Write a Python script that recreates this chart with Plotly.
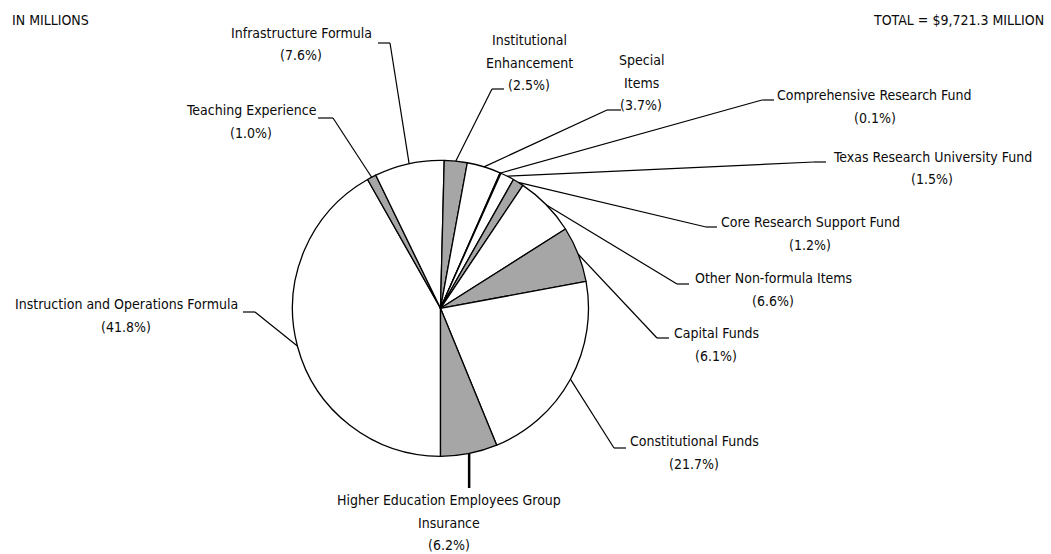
import math
import plotly.graph_objects as go

# ---- data (clockwise from 6 o'clock) ----
categories = [
    "Instruction and Operations Formula",
    "Teaching Experience",
    "Infrastructure Formula",
    "Institutional Enhancement",
    "Special Items",
    "Comprehensive Research Fund",
    "Texas Research University Fund",
    "Core Research Support Fund",
    "Other Non-formula Items",
    "Capital Funds",
    "Constitutional Funds",
    "Higher Education Employees Group Insurance",
]
shares = [41.8, 1.0, 7.6, 2.5, 3.7, 0.1, 1.5, 1.2, 6.6, 6.1, 21.7, 6.2]
label_lines = [
    ["Instruction and Operations Formula", "(41.8%)"],
    ["Teaching Experience", "(1.0%)"],
    ["Infrastructure Formula", "(7.6%)"],
    ["Institutional", "Enhancement", "(2.5%)"],
    ["Special", "Items", "(3.7%)"],
    ["Comprehensive Research Fund", "(0.1%)"],
    ["Texas Research University Fund", "(1.5%)"],
    ["Core Research Support Fund", "(1.2%)"],
    ["Other Non-formula Items", "(6.6%)"],
    ["Capital Funds", "(6.1%)"],
    ["Constitutional Funds", "(21.7%)"],
    ["Higher Education Employees Group", "Insurance", "(6.2%)"],
]
title_left = "IN MILLIONS"
title_right = "TOTAL = $9,721.3 MILLION"

# ---- styling / layout ----
W, H = 1051, 554
CX, CY, R = 440.5, 308.3, 148.0
GRAY = "#a6a6a6"
fills = ["white", GRAY, "white", GRAY, "white", "black",
         "white", GRAY, "white", GRAY, "white", GRAY]
TXT = "#0a0a0a"
FONT = "DejaVu Sans Condensed, Liberation Sans Narrow, sans-serif"
FS = 14
LINE_GAP = 22.5

# label layout: text centre x, first-line centre y,
# horizontal segment (text-side x, elbow x, y) in px
label_layout = [
    dict(tx=126, ty=304, seg=(243, 255, 312)),
    dict(tx=251, ty=110, seg=(318, 333, 118)),
    dict(tx=301, ty=33, seg=(378, 390, 43)),
    dict(tx=529, ty=40, seg=(504, 492, 89)),
    dict(tx=641, ty=60, seg=(621, 607, 110)),
    dict(tx=875, ty=95, seg=(774, 762, 100)),
    dict(tx=932, ty=157, seg=(826, 814, 162)),
    dict(tx=810, ty=222, seg=(717, 706, 227)),
    dict(tx=773, ty=278, seg=(689, 677, 284)),
    dict(tx=716, ty=333, seg=(669, 657, 338)),
    dict(tx=694, ty=441, seg=(626, 614, 448)),
    dict(tx=449, ty=500, seg=None, vend=488),
]


def px(x):
    return x / W


def py(y):
    return 1 - y / H


fig = go.Figure()
fig.add_trace(go.Pie(
    labels=categories, values=shares, sort=False,
    direction="clockwise", rotation=180,
    marker=dict(colors=fills, line=dict(color="black", width=1.3)),
    textinfo="none", hoverinfo="label+percent", showlegend=False,
    domain=dict(x=[px(CX - R), px(CX + R)], y=[py(CY + R), py(CY - R)]),
))

total = sum(shares)
shapes = []
annotations = []
cum = 0.0
for i, v in enumerate(shares):
    mid = cum + v / 2
    cum += v
    theta = math.radians(180 + 360 * mid / total)  # clockwise from top
    sx = CX + R * math.sin(theta)
    sy = CY - R * math.cos(theta)
    lay = label_layout[i]
    if lay["seg"] is None:
        shapes.append(dict(type="line", xref="paper", yref="paper",
                           x0=px(sx), y0=py(sy), x1=px(sx), y1=py(lay["vend"]),
                           line=dict(color="black", width=2.5)))
    else:
        hx0, ex, ey = lay["seg"]
        shapes.append(dict(type="line", xref="paper", yref="paper",
                           x0=px(sx), y0=py(sy), x1=px(ex), y1=py(ey),
                           line=dict(color="black", width=1.2)))
        shapes.append(dict(type="line", xref="paper", yref="paper",
                           x0=px(ex), y0=py(ey), x1=px(hx0), y1=py(ey),
                           line=dict(color="black", width=1.2)))
    for k, line in enumerate(label_lines[i]):
        annotations.append(dict(
            text=line, x=px(lay["tx"]), y=py(lay["ty"] + k * LINE_GAP),
            xref="paper", yref="paper", xanchor="center", yanchor="middle",
            showarrow=False, font=dict(family=FONT, size=FS, color=TXT)))

annotations.append(dict(text=title_left, x=px(10), y=py(20), xref="paper",
                        yref="paper", xanchor="left", yanchor="middle",
                        showarrow=False,
                        font=dict(family=FONT, size=FS, color=TXT)))
annotations.append(dict(text=title_right, x=px(1046), y=py(20), xref="paper",
                        yref="paper", xanchor="right", yanchor="middle",
                        showarrow=False,
                        font=dict(family=FONT, size=FS, color=TXT)))

fig.update_layout(
    width=W, height=H, margin=dict(l=0, r=0, t=0, b=0),
    paper_bgcolor="white", plot_bgcolor="white",
    shapes=shapes, annotations=annotations,
)
fig.write_html("out.html", config={"displayModeBar": False},
               post_script="document.body.style.margin='0';"
                           "document.body.style.overflow='hidden';")
